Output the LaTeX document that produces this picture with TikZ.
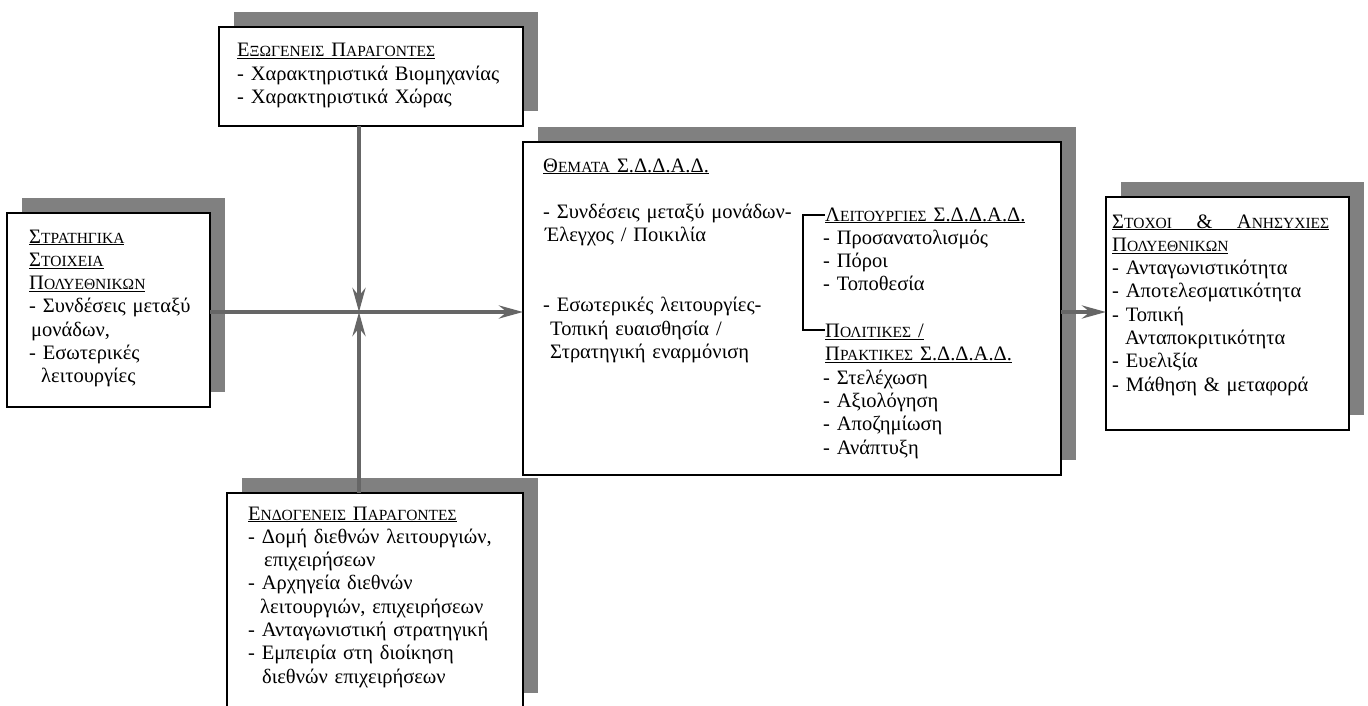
\documentclass[tikz,border=0pt]{standalone}
\usepackage{fontspec}
\setmainfont{Liberation Serif}
\usetikzlibrary{arrows.meta,shadows}
\definecolor{shadowgray}{HTML}{808080}
\definecolor{arrowgray}{HTML}{666666}
% small-caps look: full-size initial, smaller capitals after it
\newcommand\smcap[2]{#1{\fontsize{15.5}{23.3}\selectfont #2}}
\newcommand\heading[1]{\underline{#1}}
\begin{document}
\begin{tikzpicture}[x=1pt,y=-1pt,
  panel/.style={draw=black, line width=1.6pt, fill=white, anchor=north west,
    inner sep=0pt, outer sep=0pt,
    general shadow={draw=none, fill=shadowgray, shadow xshift=15pt, shadow yshift=15pt}},
  txt/.style={anchor=base west, inner sep=0pt, align=left, text width=#1,
    font=\fontsize{20.5}{23.3}\selectfont},
  txt/.default=300pt,
  conn/.style={draw=arrowgray, line width=4.5pt,
    -{Stealth[length=24pt,width=13pt,inset=8pt]}},
  bracket/.style={draw=black, line width=1.6pt},
]
\useasboundingbox (0,0) rectangle (1368,706);

% panels with their offset shadows
\node[panel, minimum width=304pt, minimum height=99pt]  (ext)   at (219,27)  {};
\node[panel, minimum width=203pt, minimum height=194pt] (strat) at (7,213)   {};
\node[panel, minimum width=296pt, minimum height=215pt] (endo)  at (227,493) {};
\node[panel, minimum width=538pt, minimum height=333pt] (mid)   at (523,142) {};
\node[panel, minimum width=243pt, minimum height=233pt] (goals) at (1106,197) {};

% panel texts
\node[txt=290pt] (extT) at (237,57) {%
\heading{\smcap{Ε}{ΞΩΓΕΝΕΙΣ} \smcap{Π}{ΑΡΑΓΟΝΤΕΣ}}\\
- Χαρακτηριστικά Βιομηχανίας\\
- Χαρακτηριστικά Χώρας};

\node[txt=180pt] (stratT) at (29,243) {%
\heading{\smcap{Σ}{ΤΡΑΤΗΓΙΚΑ}}\\
\heading{\smcap{Σ}{ΤΟΙΧΕΙΑ}}\\
\heading{\smcap{Π}{ΟΛΥΕΘΝΙΚΩΝ}}\\
- Συνδέσεις μεταξύ\\
\hspace*{2pt}μονάδων,\\
- Εσωτερικές\\
\hspace*{12pt}λειτουργίες};

\node[txt=280pt] (endoT) at (248,520) {%
\heading{\smcap{Ε}{ΝΔΟΓΕΝΕΙΣ} \smcap{Π}{ΑΡΑΓΟΝΤΕΣ}}\\
- Δομή διεθνών λειτουργιών,\\
\hspace*{16pt}επιχειρήσεων\\
- Αρχηγεία διεθνών\\
\hspace*{12pt}λειτουργιών, επιχειρήσεων\\
- Ανταγωνιστική στρατηγική\\
- Εμπειρία στη διοίκηση\\
\hspace*{14pt}διεθνών επιχειρήσεων};

\node[txt=260pt] (midT) at (543,172) {%
\heading{\smcap{Θ}{ΕΜΑΤΑ} Σ.Δ.Δ.Α.Δ.}\\[23.3pt]
- Συνδέσεις μεταξύ μονάδων-\\
\hspace*{2pt}Έλεγχος / Ποικιλία\\[46.6pt]
- Εσωτερικές λειτουργίες-\\
\hspace*{7pt}Τοπική ευαισθησία /\\
\hspace*{7pt}Στρατηγική εναρμόνιση};

\node[txt=230pt] (funcT) at (823,221) {%
\hspace*{2pt}\heading{\smcap{Λ}{ΕΙΤΟΥΡΓΙΕΣ} Σ.Δ.Δ.Α.Δ.}\\
- Προσανατολισμός\\
- Πόροι\\
- Τοποθεσία\\[23.3pt]
\hspace*{2pt}\heading{\smcap{Π}{ΟΛΙΤΙΚΕΣ} /}\\
\hspace*{2pt}\heading{\smcap{Π}{ΡΑΚΤΙΚΕΣ} Σ.Δ.Δ.Α.Δ.}\\
- Στελέχωση\\
- Αξιολόγηση\\
- Αποζημίωση\\
- Ανάπτυξη};

\node[txt=230pt] (goalsT) at (1112,228) {%
\heading{\makebox[217pt][l]{\smcap{Σ}{ΤΟΧΟΙ}\hfill\&\hfill\smcap{Α}{ΝΗΣΥΧΙΕΣ}}}\\
\heading{\smcap{Π}{ΟΛΥΕΘΝΙΚΩΝ}}\\
- Ανταγωνιστικότητα\\
- Αποτελεσματικότητα\\
- Τοπική\\
\hspace*{13pt}Ανταποκριτικότητα\\
- Ευελιξία\\
- Μάθηση \& μεταφορά};

% bracket joining the two sub-lists
\coordinate (brt) at (825,215);
\coordinate (brb) at (825,330);
\draw[bracket] (brt) -- ++(-22,0) |- (brb);

% connectors meeting at the hub
\coordinate (hub) at (359,312);
\draw[conn] (strat.east |- hub) -- (mid.west |- hub);
\draw[conn] (ext.south -| hub) -- (hub);
\draw[conn] (endo.north -| hub) -- (hub);
\draw[conn] (mid.east |- hub) -- (goals.west |- hub);
\end{tikzpicture}
\end{document}
